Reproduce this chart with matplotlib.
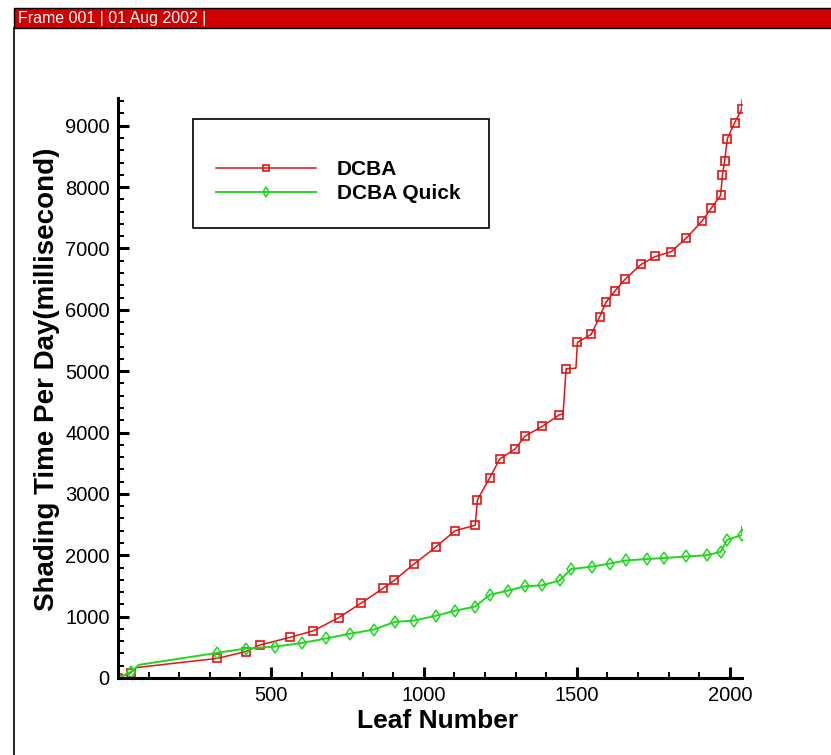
import matplotlib
matplotlib.use('Agg')
import matplotlib.pyplot as plt
from matplotlib.patches import Rectangle
from matplotlib.lines import Line2D
from matplotlib.ticker import MultipleLocator

plt.rcParams['font.family'] = ['Liberation Sans', 'DejaVu Sans']

# DCBA curve: line vertices, dcba_marks = indices that carry a symbol
dcba_leaf = [0, 42, 60, 325, 417, 465, 561, 639, 722, 795, 866, 903, 967,
             1038, 1102, 1168, 1175, 1215, 1248, 1299, 1330, 1387, 1443, 1455,
             1465, 1497, 1502, 1547, 1575, 1595, 1625, 1658, 1710, 1757, 1809,
             1858, 1910, 1939, 1970, 1976, 1983, 1992, 2016, 2040, 2040]
dcba_time = [0, 85, 170, 320, 430, 540, 660, 770, 985, 1220, 1460, 1590, 1855,
             2130, 2400, 2490, 2905, 3260, 3570, 3735, 3940, 4100, 4290, 4300,
             5040, 5050, 5470, 5600, 5890, 6120, 6310, 6500, 6740, 6870, 6950,
             7170, 7450, 7655, 7865, 8190, 8420, 8790, 9050, 9275, 9420]
dcba_marks = [i for i in range(len(dcba_leaf)) if i not in (2, 23, 25, 44)]

# DCBA Quick curve
quick_leaf = [0, 42, 69, 325, 417, 512, 601, 681, 757, 837, 905, 967, 1040,
              1101, 1168, 1215, 1276, 1330, 1387, 1444, 1481, 1550, 1608, 1660,
              1731, 1785, 1856, 1924, 1970, 1991, 2040, 2040]
quick_time = [0, 100, 215, 410, 480, 510, 570, 645, 720, 790, 915, 935, 1015,
              1095, 1165, 1355, 1425, 1495, 1510, 1590, 1775, 1815, 1865, 1915,
              1940, 1955, 1980, 2000, 2055, 2250, 2330, 2460]
quick_marks = [i for i in range(len(quick_leaf)) if i not in (2, 31)]

x_ticks = [500, 1000, 1500, 2000]
y_ticks = [0, 1000, 2000, 3000, 4000, 5000, 6000, 7000, 8000, 9000]

red = '#e01414'
green = '#1ed81e'

fig = plt.figure(figsize=(8.31, 7.55), dpi=100)
fig.patch.set_facecolor('white')

# Tecplot style frame header and left border
fig.patches.append(Rectangle((14 / 831, 0.9629), 1.0, 0.0265, transform=fig.transFigure,
                             facecolor='#d00000', edgecolor='black', linewidth=1.0))
fig.lines.append(Line2D([14 / 831, 14 / 831], [0, 0.963], transform=fig.transFigure,
                        color='black', linewidth=1.2))
fig.text(0.022, 0.9755, 'Frame 001 | 01 Aug 2002 |', color='white', fontsize=11.5,
         va='center', ha='left')

ax = fig.add_axes([118 / 831, 0.102, 624 / 831, 0.768])

ax.plot(dcba_leaf, dcba_time, color=red, linewidth=1.1, marker='s', markersize=6,
        markerfacecolor='none', markeredgecolor=red, markeredgewidth=1.2,
        markevery=dcba_marks, label='DCBA')
ax.plot(quick_leaf, quick_time, color=green, linewidth=1.4, marker='d', markersize=6.5,
        markerfacecolor='none', markeredgecolor=green, markeredgewidth=1.1,
        markevery=quick_marks, label='DCBA Quick')

ax.set_xlim(0, 2040)
ax.set_ylim(0, 9450)
ax.set_xticks(x_ticks)
ax.set_yticks(y_ticks)
ax.xaxis.set_minor_locator(MultipleLocator(100))
ax.yaxis.set_minor_locator(MultipleLocator(200))

ax.spines['top'].set_visible(False)
ax.spines['right'].set_visible(False)
ax.spines['left'].set_linewidth(2.2)
ax.spines['bottom'].set_linewidth(2.2)
ax.tick_params(which='major', direction='in', length=8, width=2.2, labelsize=14.5, pad=6)
ax.tick_params(which='minor', direction='in', length=4.5, width=1.4)

ax.set_xlabel('Leaf Number', fontsize=19, fontweight='bold', va='center')
ax.xaxis.set_label_coords(0.512, -0.074)
ax.set_ylabel('Shading Time Per Day(millisecond)', fontsize=20, fontweight='bold', va='center')
ax.yaxis.set_label_coords(-0.113, 0.515)

# legend box drawn separately (Tecplot leaves a big top margin)
ax.add_patch(Rectangle((0.1207, 0.7753), 0.474, 0.188, transform=ax.transAxes,
                       facecolor='white', edgecolor='black', linewidth=1.2, zorder=5))
leg = ax.legend(loc='upper left', bbox_to_anchor=(0.157, 0.893), frameon=False,
                borderpad=0, borderaxespad=0, handlelength=4.8, handletextpad=1.0,
                labelspacing=0.25, numpoints=1, markerscale=0.8,
                prop={'size': 15, 'weight': 'bold'})
leg.set_zorder(6)

plt.savefig('out.png', dpi=100, facecolor='white')
